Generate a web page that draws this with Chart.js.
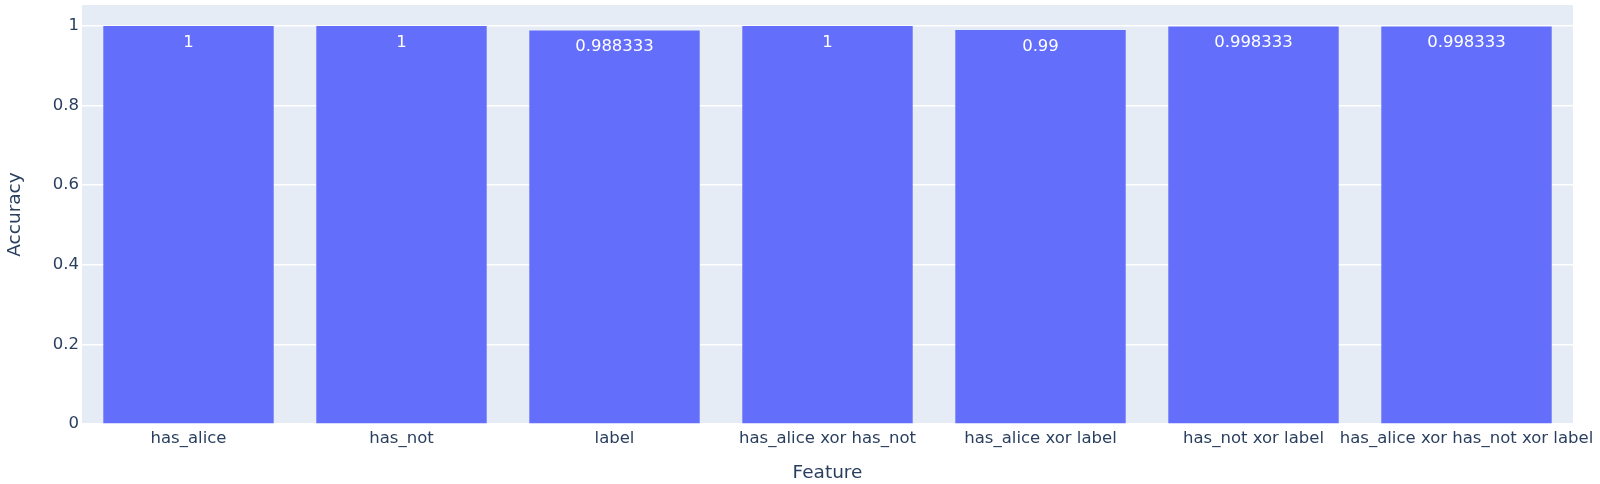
<!DOCTYPE html>
<html lang="en">

<head>
    <meta charset="UTF-8">
    <title>Accuracy by feature</title>
    <script src="https://cdn.jsdelivr.net/npm/chart.js"></script>
    <style>
        body {
            margin: 0;
            background: #fff;
        }

        canvas {
            display: block;
        }
    </style>
</head>

<body>
    <canvas id="chart" width="1600" height="484"></canvas>

    <script>
        const features = ['has_alice', 'has_not', 'label', 'has_alice xor has_not',
            'has_alice xor label', 'has_not xor label', 'has_alice xor has_not xor label'];
        const accuracy = [1, 1, 0.988333, 1, 0.99, 0.998333, 0.998333];
        const yTicks = [0, 0.2, 0.4, 0.6, 0.8, 1];

        const textColor = '#2a3f5f';
        const fontFamily = '"DejaVu Sans", Verdana, sans-serif';

        // plot background like plotly's template
        const plotBg = {
            id: 'plotBg',
            beforeDraw(chart) {
                const { ctx, chartArea: a } = chart;
                ctx.save();
                ctx.fillStyle = '#e5ecf6';
                ctx.fillRect(a.left, a.top, a.right - a.left, a.bottom - a.top);
                ctx.restore();
            }
        };

        // white value text inside the top of each bar
        const barText = {
            id: 'barText',
            afterDatasetsDraw(chart) {
                const ctx = chart.ctx;
                const meta = chart.getDatasetMeta(0);
                ctx.save();
                ctx.fillStyle = '#ffffff';
                ctx.font = '16.5px ' + fontFamily;
                ctx.textAlign = 'center';
                ctx.textBaseline = 'middle';
                meta.data.forEach((bar, i) => {
                    ctx.fillText(String(accuracy[i]), bar.x, bar.y + 16.5);
                });
                ctx.restore();
            }
        };

        new Chart(document.getElementById('chart'), {
            type: 'bar',
            data: {
                labels: features,
                datasets: [{
                    data: accuracy,
                    backgroundColor: '#636efa',
                    borderWidth: 0,
                    barPercentage: 0.8,
                    categoryPercentage: 1
                }]
            },
            options: {
                responsive: false,
                animation: false,
                devicePixelRatio: 1,
                layout: { padding: { top: 5, right: 27, left: 0, bottom: 0 } },
                plugins: {
                    legend: { display: false },
                    tooltip: { enabled: false }
                },
                scales: {
                    x: {
                        grid: { display: false, drawTicks: false },
                        border: { display: false },
                        ticks: {
                            color: textColor,
                            font: { family: fontFamily, size: 16.5 },
                            padding: 5,
                            maxRotation: 0,
                            autoSkip: false
                        },
                        title: {
                            display: true,
                            text: 'Feature',
                            color: textColor,
                            font: { family: fontFamily, size: 18.5 },
                            padding: { top: 0, bottom: 0 }
                        },
                        afterFit(scale) {
                            scale.height = 60;
                            scale.paddingLeft = 0;
                            scale.paddingRight = 0;
                        }
                    },
                    y: {
                        min: 0,
                        max: 1 / 0.95,
                        grid: { color: '#ffffff', lineWidth: 1.5, drawTicks: false },
                        border: { display: false },
                        ticks: {
                            color: textColor,
                            font: { family: fontFamily, size: 16.5 },
                            padding: 3,
                            callback: v => String(+v.toFixed(2))
                        },
                        afterBuildTicks(scale) {
                            scale.ticks = yTicks.map(v => ({ value: v }));
                        },
                        title: {
                            display: true,
                            text: 'Accuracy',
                            color: textColor,
                            font: { family: fontFamily, size: 18.5 },
                            padding: { top: 4.5, bottom: 0 }
                        },
                        afterFit(scale) {
                            scale.width = 82;
                            scale.paddingTop = 0;
                            scale.paddingBottom = 0;
                        }
                    }
                }
            },
            plugins: [plotBg, barText]
        });
    </script>
</body>

</html>
